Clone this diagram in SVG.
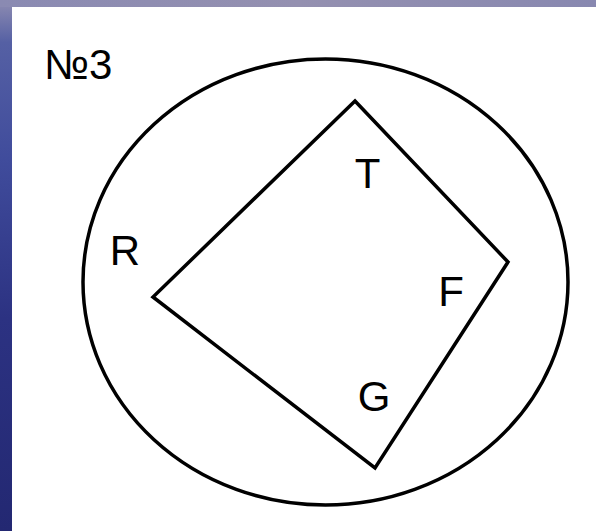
<svg xmlns="http://www.w3.org/2000/svg" width="596" height="531" viewBox="0 0 596 531">
  <defs>
    <linearGradient id="side" x1="0" y1="0" x2="0" y2="1">
      <stop offset="0" stop-color="#8f8db2"/>
      <stop offset="0.08" stop-color="#5560a4"/>
      <stop offset="0.3" stop-color="#404c9c"/>
      <stop offset="0.6" stop-color="#2c3282"/>
      <stop offset="1" stop-color="#232872"/>
    </linearGradient>
    <linearGradient id="top" x1="0" y1="0" x2="1" y2="0">
      <stop offset="0" stop-color="#8a8ab2"/>
      <stop offset="0.5" stop-color="#9490b0"/>
      <stop offset="1" stop-color="#8888b0"/>
    </linearGradient>
  </defs>
  <style>
    .shape { fill: none; stroke: #000; stroke-width: 3.5; stroke-linejoin: miter; }
    .lbl { font-family: "Liberation Sans", Arial, sans-serif; font-size: 42px; fill: #000; }
  </style>
  <rect x="0" y="0" width="596" height="531" fill="#fff"/>
  <rect x="0" y="0" width="12" height="531" fill="url(#side)"/>
  <rect x="0" y="0" width="596" height="7" fill="url(#top)"/>
  <g id="title">
    <text class="lbl" x="44" y="79">№3</text>
  </g>
  <g id="circle">
    <ellipse class="shape" cx="325.5" cy="282" rx="242.5" ry="223"/>
  </g>
  <g id="quad">
    <polygon class="shape" points="355,101 508,262 375,468 153,297"/>
  </g>
  <g id="labels">
    <text class="lbl" x="367.5" y="188" text-anchor="middle">T</text>
    <text class="lbl" x="125" y="265" text-anchor="middle">R</text>
    <text class="lbl" x="451" y="306" text-anchor="middle">F</text>
    <text class="lbl" x="374" y="411" text-anchor="middle">G</text>
  </g>
</svg>
